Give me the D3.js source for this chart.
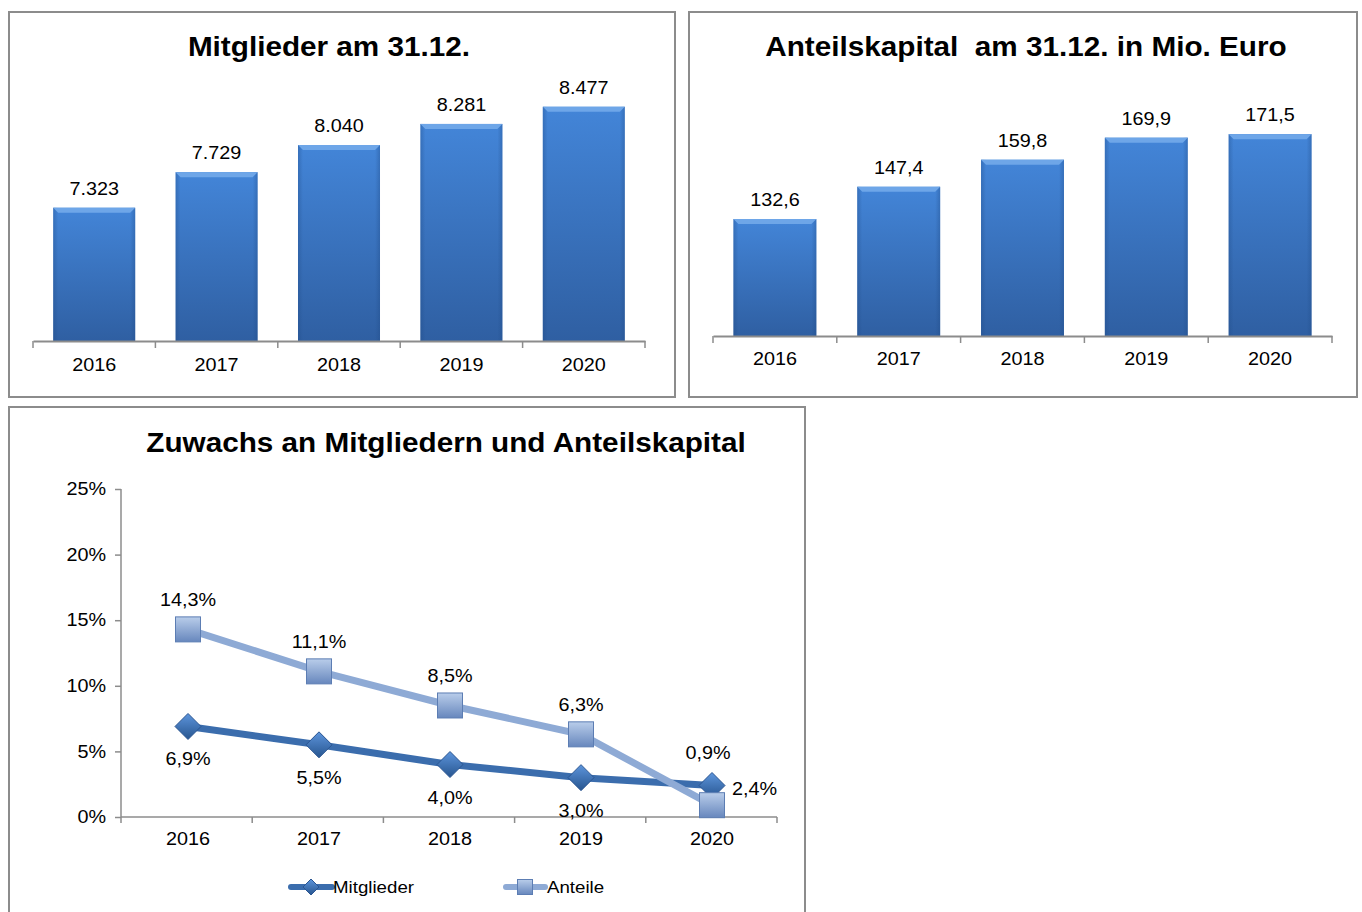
<!DOCTYPE html>
<html>
<head>
<meta charset="utf-8">
<script src="https://cdn.jsdelivr.net/npm/d3@7"></script>
<style>
  body { margin: 0; background: #fff; }
  text { font-family: "Liberation Sans", Arial, sans-serif; fill: #000; white-space: pre; }
</style>
</head>
<body>
<script>
// data
var years = ["2016", "2017", "2018", "2019", "2020"];
var mitglieder = [7323, 7729, 8040, 8281, 8477];
var mitgliederLabels = ["7.323", "7.729", "8.040", "8.281", "8.477"];
var kapital = [132.6, 147.4, 159.8, 169.9, 171.5];
var kapitalLabels = ["132,6", "147,4", "159,8", "169,9", "171,5"];
var zuwachsMitglieder = [6.9, 5.5, 4.0, 3.0, 2.4];
var zuwachsAnteile = [14.3, 11.1, 8.5, 6.3, 0.9];
var pctTicks = [0, 5, 10, 15, 20, 25];

var svg = d3.select("body").append("svg")
  .attr("width", 1362)
  .attr("height", 912);

var defs = svg.append("defs");

var barGrad = defs.append("linearGradient").attr("id", "barGrad")
  .attr("x1", 0).attr("y1", 0).attr("x2", 0).attr("y2", 1);
barGrad.append("stop").attr("offset", "0%").attr("stop-color", "#4385d8");
barGrad.append("stop").attr("offset", "100%").attr("stop-color", "#2f5fa2");

var sideGrad = defs.append("linearGradient").attr("id", "sideGrad")
  .attr("x1", 0).attr("y1", 0).attr("x2", 1).attr("y2", 0);
sideGrad.append("stop").attr("offset", "0%").attr("stop-color", "#1f4a85").attr("stop-opacity", 0.35);
sideGrad.append("stop").attr("offset", "6%").attr("stop-color", "#1f4a85").attr("stop-opacity", 0);
sideGrad.append("stop").attr("offset", "94%").attr("stop-color", "#1f4a85").attr("stop-opacity", 0);
sideGrad.append("stop").attr("offset", "100%").attr("stop-color", "#1f4a85").attr("stop-opacity", 0.35);

var sqGrad = defs.append("linearGradient").attr("id", "sqGrad")
  .attr("x1", 0).attr("y1", 0).attr("x2", 0).attr("y2", 1);
sqGrad.append("stop").attr("offset", "0%").attr("stop-color", "#b9cdea");
sqGrad.append("stop").attr("offset", "100%").attr("stop-color", "#6787bd");

var diaGrad = defs.append("linearGradient").attr("id", "diaGrad")
  .attr("x1", 0).attr("y1", 0).attr("x2", 0).attr("y2", 1);
diaGrad.append("stop").attr("offset", "0%").attr("stop-color", "#5d95dc");
diaGrad.append("stop").attr("offset", "100%").attr("stop-color", "#27558f");

// panel frames
function frame(x, y, w, h) {
  svg.append("rect")
    .attr("x", x).attr("y", y).attr("width", w).attr("height", h)
    .attr("fill", "#fff").attr("stroke", "#8c8c8c").attr("stroke-width", 2);
}
frame(9, 12, 666, 385);
frame(689, 12, 668, 385);
frame(9, 407, 796, 520);

function title(txt, x, y) {
  svg.append("text").attr("x", x).attr("y", y)
    .attr("text-anchor", "middle")
    .style("font-size", "27px").style("font-weight", "bold")
    .text(txt);
}

function barChart(opts) {
  var x = d3.scaleBand().domain(years).range([opts.x0, opts.x1]).paddingInner(0.33).paddingOuter(0.165);
  var y = d3.scaleLinear().domain(opts.domain).range([opts.base, opts.top]);
  var g = svg.append("g");

  var bars = g.selectAll("g.bar").data(opts.values).enter().append("g").attr("class", "bar");
  bars.append("rect")
    .attr("x", function(d, i){ return x(years[i]); })
    .attr("y", function(d){ return y(d); })
    .attr("width", x.bandwidth())
    .attr("height", function(d){ return opts.base - y(d); })
    .attr("fill", "url(#barGrad)");
  bars.append("rect")
    .attr("x", function(d, i){ return x(years[i]); })
    .attr("y", function(d){ return y(d); })
    .attr("width", x.bandwidth())
    .attr("height", function(d){ return opts.base - y(d); })
    .attr("fill", "url(#sideGrad)");
  // top bevel
  bars.append("path")
    .attr("d", function(d, i){
      var l = x(years[i]), r = l + x.bandwidth(), t = y(d);
      return "M" + l + "," + t + "L" + r + "," + t + "L" + (r - 5) + "," + (t + 5) + "L" + (l + 5) + "," + (t + 5) + "Z";
    })
    .attr("fill", "#6ea6e8");

  g.selectAll("text.val").data(opts.values).enter().append("text")
    .attr("x", function(d, i){ return x(years[i]) + x.bandwidth() / 2; })
    .attr("y", function(d){ return y(d) - 13; })
    .attr("text-anchor", "middle")
    .style("font-size", "18px")
    .text(function(d, i){ return opts.labels[i]; });

  var axis = d3.axisBottom(x).tickSize(0).tickPadding(opts.pad);
  var ag = g.append("g").attr("transform", "translate(0," + opts.base + ")").call(axis);
  ag.select(".domain").attr("stroke", "#8c8c8c").attr("stroke-width", 2);
  ag.selectAll("text").style("font-size", "18px").attr("fill", "#000");
  // ticks between categories
  var edges = d3.range(years.length + 1).map(function(i){ return opts.x0 + i * (opts.x1 - opts.x0) / years.length; });
  ag.selectAll("line.sep").data(edges).enter().append("line").attr("class", "sep")
    .attr("x1", function(d){ return d; }).attr("x2", function(d){ return d; })
    .attr("y1", 0).attr("y2", 7)
    .attr("stroke", "#8c8c8c").attr("stroke-width", 1.5);
}

title("Mitglieder am 31.12.", 329, 56);
barChart({ x0: 33, x1: 645, base: 341, top: 61, domain: [5800, 9000], values: mitglieder, labels: mitgliederLabels, pad: 17 });

title("Anteilskapital  am 31.12. in Mio. Euro", 1026, 56);
barChart({ x0: 713, x1: 1332, base: 336, top: 72, domain: [79, 200], values: kapital, labels: kapitalLabels, pad: 16 });

// line chart
title("Zuwachs an Mitgliedern und Anteilskapital", 446, 452);

var lx = d3.scalePoint().domain(years).range([188, 712]);
var ly = d3.scaleLinear().domain([0, 25]).range([817, 489]);
var lg = svg.append("g");

var yAxis = d3.axisLeft(ly).tickValues(pctTicks).tickSize(6).tickPadding(9)
  .tickFormat(function(d){ return d + "%"; });
var yg = lg.append("g").attr("transform", "translate(121,0)").call(yAxis);
yg.select(".domain").attr("stroke", "#8c8c8c").attr("stroke-width", 1.5).attr("d", "M0,489V817");
yg.selectAll("line").attr("stroke", "#8c8c8c").attr("stroke-width", 1.5);
yg.selectAll("text").style("font-size", "18px").attr("fill", "#000");

var xg = lg.append("g").attr("transform", "translate(0,817)");
xg.append("line").attr("x1", 121).attr("x2", 777).attr("y1", 0).attr("y2", 0)
  .attr("stroke", "#8c8c8c").attr("stroke-width", 1.5);
var lEdges = d3.range(years.length + 1).map(function(i){ return 121 + i * 131.2; });
xg.selectAll("line.sep").data(lEdges).enter().append("line").attr("class", "sep")
  .attr("x1", function(d){ return d; }).attr("x2", function(d){ return d; })
  .attr("y1", 0).attr("y2", 6)
  .attr("stroke", "#8c8c8c").attr("stroke-width", 1.5);
xg.selectAll("text").data(years).enter().append("text")
  .attr("x", function(d){ return lx(d); }).attr("y", 28)
  .attr("text-anchor", "middle").style("font-size", "18px")
  .text(function(d){ return d; });

var line = d3.line()
  .x(function(d, i){ return lx(years[i]); })
  .y(function(d){ return ly(d); });

lg.append("path").datum(zuwachsMitglieder).attr("d", line)
  .attr("fill", "none").attr("stroke", "#3b6dad").attr("stroke-width", 7);
lg.append("path").datum(zuwachsAnteile).attr("d", line)
  .attr("fill", "none").attr("stroke", "#8eaad5").attr("stroke-width", 7);

function diamond(sel, cx, cy, r) {
  sel.append("path")
    .attr("d", "M" + cx + "," + (cy - r) + "L" + (cx + r) + "," + cy + "L" + cx + "," + (cy + r) + "L" + (cx - r) + "," + cy + "Z")
    .attr("fill", "url(#diaGrad)").attr("stroke", "#2a5592").attr("stroke-width", 1);
}
function square(sel, cx, cy, s) {
  sel.append("rect")
    .attr("x", cx - s / 2).attr("y", cy - s / 2).attr("width", s).attr("height", s)
    .attr("fill", "url(#sqGrad)").attr("stroke", "#5c7db3").attr("stroke-width", 1);
}

zuwachsMitglieder.forEach(function(d, i){ diamond(lg, lx(years[i]), ly(d), 13); });
zuwachsAnteile.forEach(function(d, i){ square(lg, lx(years[i]), ly(d), 25); });

function pct(v) { return v.toFixed(1).replace(".", ",") + "%"; }

lg.selectAll("text.lm").data(zuwachsMitglieder).enter().append("text").attr("class", "lm")
  .attr("x", function(d, i){ return i === 4 ? lx(years[i]) + 20 : lx(years[i]); })
  .attr("y", function(d, i){ return i === 4 ? ly(d) + 9 : ly(d) + 39; })
  .attr("text-anchor", function(d, i){ return i === 4 ? "start" : "middle"; })
  .style("font-size", "18px")
  .text(pct);

lg.selectAll("text.la").data(zuwachsAnteile).enter().append("text").attr("class", "la")
  .attr("x", function(d, i){ return i === 4 ? lx(years[i]) - 4 : lx(years[i]); })
  .attr("y", function(d, i){ return i === 4 ? ly(d) - 46 : ly(d) - 23; })
  .attr("text-anchor", "middle")
  .style("font-size", "18px")
  .text(pct);

// legend
var leg = svg.append("g");
leg.append("line").attr("x1", 291).attr("x2", 332).attr("y1", 887).attr("y2", 887)
  .attr("stroke", "#3b6dad").attr("stroke-width", 6).attr("stroke-linecap", "round");
diamond(leg, 311, 887, 8);
leg.append("text").attr("x", 333).attr("y", 893).style("font-size", "17px").text("Mitglieder");

leg.append("line").attr("x1", 506).attr("x2", 545).attr("y1", 887).attr("y2", 887)
  .attr("stroke", "#8eaad5").attr("stroke-width", 6).attr("stroke-linecap", "round");
square(leg, 525, 887, 15);
leg.append("text").attr("x", 547).attr("y", 893).style("font-size", "17px").text("Anteile");

// the source text is a bit wider than Liberation Sans, stretch it around its anchor
svg.selectAll("text").each(function(){
  var t = d3.select(this);
  var x = +t.attr("x") || 0;
  t.attr("transform", "translate(" + x + ",0) scale(1.1,1) translate(" + (-x) + ",0)");
});
</script>
</body>
</html>
